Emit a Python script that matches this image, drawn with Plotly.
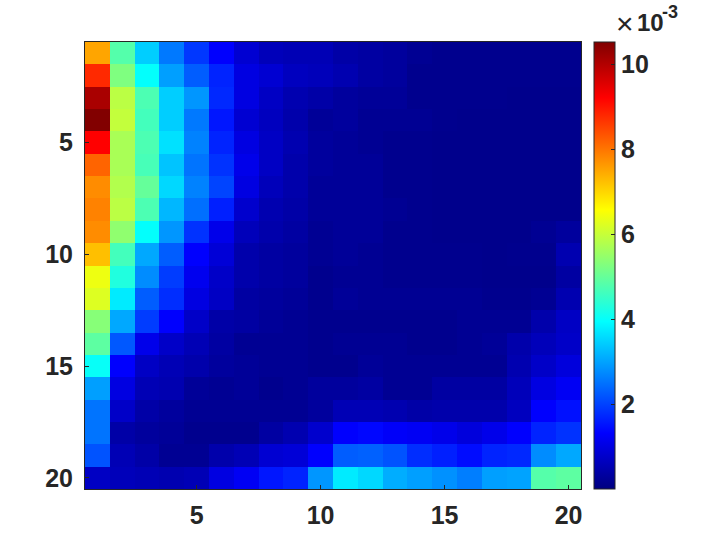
import plotly.graph_objects as go

c01 = [7.5, 8.78, 10.1, 10.5, 9.2, 8.17, 7.76, 7.86, 7.76, 7.24, 6.4, 6.22, 5.34, 4.9, 4.02, 2.95, 2.51, 2.51, 2.17, 0.7]
c02 = [4.81, 5.25, 5.87, 5.96, 5.69, 5.69, 5.78, 5.87, 5.43, 4.64, 4.28, 3.74, 3.05, 2.22, 1.3, 1.0, 0.75, 0.4, 0.55, 0.6]
c03 = [3.44, 3.98, 4.73, 4.64, 4.73, 4.68, 4.99, 4.73, 3.98, 3.05, 2.76, 2.27, 1.93, 1.1, 0.7, 0.55, 0.4, 0.3, 0.4, 0.55]
c04 = [2.56, 2.95, 3.44, 3.44, 3.64, 3.34, 3.54, 3.2, 2.86, 2.27, 1.93, 1.78, 1.3, 0.75, 0.55, 0.5, 0.3, 0.25, 0.2, 0.5]
c05 = [1.88, 2.27, 2.86, 2.56, 2.66, 2.51, 2.66, 2.46, 1.83, 1.3, 1.15, 1.0, 0.75, 0.55, 0.45, 0.25, 0.2, 0.15, 0.2, 0.55]
c06 = [1.3, 1.68, 1.73, 1.54, 1.68, 1.83, 2.02, 1.63, 1.1, 0.9, 0.75, 0.7, 0.4, 0.35, 0.3, 0.2, 0.2, 0.15, 0.45, 1.0]
c07 = [0.85, 1.0, 1.0, 0.85, 1.0, 1.1, 1.0, 0.8, 0.6, 0.45, 0.45, 0.35, 0.35, 0.2, 0.25, 0.25, 0.2, 0.15, 0.55, 1.2]
c08 = [0.6, 0.85, 0.7, 0.65, 0.7, 0.7, 0.6, 0.5, 0.45, 0.35, 0.35, 0.3, 0.25, 0.2, 0.2, 0.15, 0.2, 0.35, 0.85, 1.54]
c09 = [0.55, 0.65, 0.5, 0.45, 0.5, 0.45, 0.45, 0.4, 0.35, 0.3, 0.3, 0.25, 0.2, 0.2, 0.2, 0.2, 0.2, 0.5, 0.9, 1.68]
c10 = [0.55, 0.6, 0.4, 0.25, 0.3, 0.3, 0.25, 0.25, 0.2, 0.2, 0.15, 0.15, 0.15, 0.15, 0.15, 0.3, 0.3, 0.8, 1.3, 2.86]
c11 = [0.4, 0.5, 0.3, 0.3, 0.25, 0.25, 0.25, 0.25, 0.25, 0.25, 0.2, 0.25, 0.15, 0.2, 0.15, 0.3, 0.55, 1.3, 2.27, 3.74]
c12 = [0.35, 0.35, 0.25, 0.2, 0.2, 0.25, 0.25, 0.25, 0.25, 0.2, 0.2, 0.2, 0.15, 0.2, 0.25, 0.35, 0.55, 1.38, 2.32, 3.54]
c13 = [0.3, 0.3, 0.25, 0.2, 0.15, 0.15, 0.15, 0.2, 0.15, 0.15, 0.15, 0.2, 0.15, 0.2, 0.2, 0.2, 0.5, 1.25, 2.17, 3.1]
c14 = [0.2, 0.15, 0.15, 0.2, 0.15, 0.15, 0.15, 0.15, 0.15, 0.15, 0.15, 0.2, 0.15, 0.15, 0.2, 0.2, 0.4, 1.2, 1.78, 2.95]
c15 = [0.15, 0.15, 0.15, 0.15, 0.12, 0.12, 0.12, 0.12, 0.12, 0.15, 0.15, 0.2, 0.15, 0.15, 0.2, 0.35, 0.45, 1.1, 1.63, 2.81]
c16 = [0.15, 0.15, 0.15, 0.12, 0.12, 0.12, 0.12, 0.12, 0.12, 0.15, 0.15, 0.2, 0.2, 0.2, 0.2, 0.35, 0.45, 0.95, 1.44, 2.61]
c17 = [0.15, 0.15, 0.15, 0.12, 0.12, 0.12, 0.12, 0.12, 0.12, 0.12, 0.12, 0.15, 0.2, 0.25, 0.2, 0.35, 0.45, 1.1, 1.68, 2.95]
c18 = [0.15, 0.15, 0.12, 0.12, 0.12, 0.12, 0.12, 0.12, 0.12, 0.15, 0.12, 0.15, 0.2, 0.45, 0.5, 0.6, 0.65, 1.3, 1.73, 3.0]
c19 = [0.15, 0.15, 0.12, 0.12, 0.12, 0.12, 0.12, 0.12, 0.2, 0.15, 0.12, 0.2, 0.45, 0.6, 0.75, 1.0, 1.3, 1.68, 2.76, 4.82]
c20 = [0.15, 0.15, 0.12, 0.12, 0.12, 0.12, 0.12, 0.12, 0.3, 0.5, 0.35, 0.5, 0.7, 0.75, 0.95, 1.2, 1.48, 1.83, 3.05, 4.9]
all_cols = [c01, c02, c03, c04, c05, c06, c07, c08, c09, c10, c11, c12, c13, c14, c15, c16, c17, c18, c19, c20]
z = [[col[r] for col in all_cols] for r in range(20)]
axis_vals = list(range(1, 21))
axis_ticks = [5, 10, 15, 20]
cbar_ticks = [2, 4, 6, 8, 10]

jet = [[0, "#000080"], [0.125, "#0000ff"], [0.375, "#00ffff"], [0.625, "#ffff00"],
       [0.875, "#ff0000"], [1, "#800000"]]
INK = "#262626"
W, H = 703, 551
FONT = "Liberation Sans"
# effective plotting box after the margins that plotly pushes by itself
PW, PH = 702.0, 548.0


def fx(px):
    return px / PW


def fy(py):
    return 1 - py / PH


fig = go.Figure(go.Heatmap(
    x=axis_vals, y=axis_vals, z=z, zmin=0.0, zmax=10.52, colorscale=jet, hoverinfo="skip",
    colorbar=dict(
        x=fx(594), xanchor="left", xref="paper", y=fy(489), yanchor="bottom", yref="paper",
        len=447 / PH, lenmode="fraction", thickness=21, thicknessmode="pixels",
        outlinecolor=INK, outlinewidth=1, tickvals=cbar_ticks, ticks="inside", ticklen=4,
        tickcolor=INK, tickwidth=1, tickfont=dict(family=FONT, size=25, color=INK, weight="bold"),
        xpad=0, ypad=0, borderwidth=0,
    ),
))
ax = dict(tickvals=axis_ticks, ticks="inside", ticklen=4, tickwidth=1, tickcolor=INK,
          showline=True, linecolor=INK, linewidth=1, mirror=True, showgrid=False, zeroline=False,
          tickfont=dict(family=FONT, size=25, color=INK, weight="bold"))
fig.update_layout(
    width=W, height=H, paper_bgcolor="white", plot_bgcolor="white", autosize=False,
    margin=dict(l=0, r=0, t=0, b=0),
    xaxis=dict(range=[0.5, 20.5], domain=[fx(85), fx(581)], anchor="y", ticklabelstandoff=4, **ax),
    yaxis=dict(range=[20.5, 0.5], domain=[fy(489), fy(42)], anchor="x", ticklabelstandoff=6, **ax),
    annotations=[dict(text="×", x=fx(614), y=fy(24), xref="paper", yref="paper", xanchor="left",
                      yanchor="middle", showarrow=False, font=dict(family=FONT, size=30, color=INK)),
                 dict(text="<b>10</b>", x=fx(635), y=fy(23), xref="paper", yref="paper", xanchor="left",
                      yanchor="middle", showarrow=False, font=dict(family=FONT, size=24, color=INK)),
                 dict(text="<b>-3</b>", x=fx(660), y=fy(12), xref="paper", yref="paper", xanchor="left",
                      yanchor="middle", showarrow=False, font=dict(family=FONT, size=18, color=INK))],
)
fig.write_html("out.html", post_script="document.body.style.margin='0';", config={"displayModeBar": False})
